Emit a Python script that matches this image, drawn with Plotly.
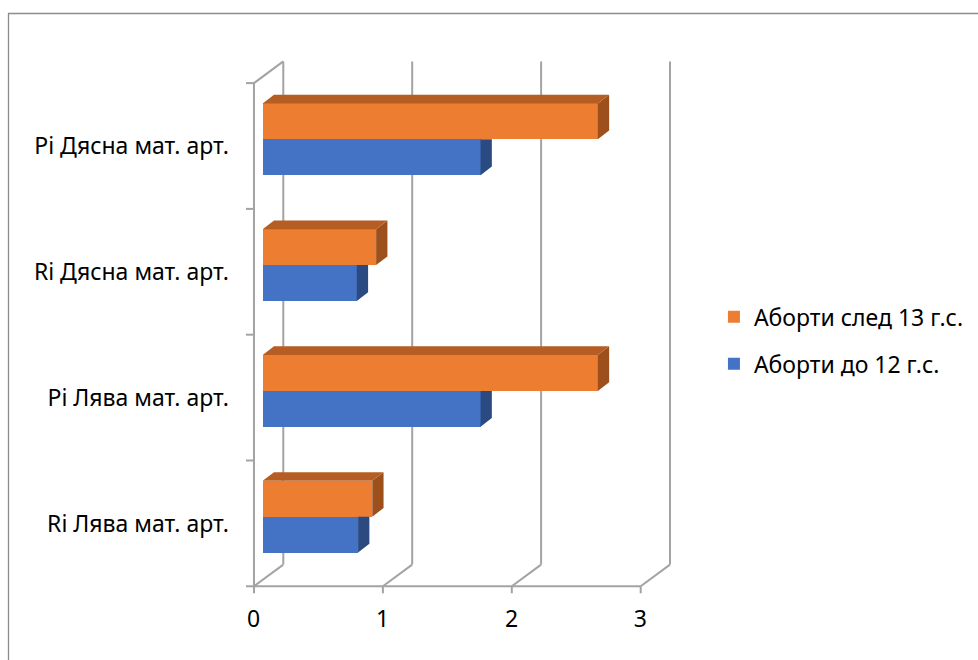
import plotly.graph_objects as go

# Series values per category (categories listed bottom-up)
categories = ["Ri Лява мат. арт.", "Pi Лява мат. арт.", "Ri Дясна мат. арт.", "Pi Дясна мат. арт."]
series_names = ["Аборти до 12 г.с.", "Аборти след 13 г.с."]
abort_before_12 = [0.74, 1.69, 0.73, 1.69]
abort_after_13 = [0.85, 2.6, 0.88, 2.6]
x_ticks = [0, 1, 2, 3]

BLUE, BLUE_SIDE = "#4472C4", "#2B4A82"
ORANGE, ORANGE_TOP, ORANGE_SIDE = "#ED7D31", "#B55D22", "#9E501C"
GRID = "#A3A3A3"
FONT = "Noto Sans"
FS = 23

# Canvas and plot-area geometry (pixels)
W, H = 978, 660
L, R, T, B = 240, 700, 40, 600
x_range = [-0.176, 3.3925]
y_range = [-0.6622, 3.7893]
kx = (R - L) / (x_range[1] - x_range[0])   # px per value unit
ky = (B - T) / (y_range[1] - y_range[0])   # px per category unit

def dx(px):
    return px / kx

def dy(px):
    return px / ky

# 3-D box offsets relative to the plane of the bar faces
fx, fy = dx(-8.7), dy(-6.7)     # front plane
bx, by = dx(20.6), dy(15.0)     # back wall
ex, ey = dx(11.3), dy(8.7)      # bar extrusion depth
bar_w = 0.285

pos = list(range(len(categories)))
fig = go.Figure()

fig.add_trace(go.Bar(
    y=pos, x=abort_before_12, orientation="h", name=series_names[0],
    width=bar_w, offset=-bar_w, marker=dict(color=BLUE, line=dict(width=0)),
    legendgroup="b", legendrank=2,
))
fig.add_trace(go.Bar(
    y=pos, x=abort_after_13, orientation="h", name=series_names[1],
    width=bar_w, offset=0, marker=dict(color=ORANGE, line=dict(width=0)),
    legendgroup="a", legendrank=1,
))

# Side and top faces of the bars, derived from the same values
def polys(builder):
    xs, ys = [], []
    for i in pos:
        px_, py_ = builder(i)
        xs += px_ + [px_[0], None]
        ys += py_ + [py_[0], None]
    return xs, ys

blue_side = polys(lambda i: (
    [abort_before_12[i], abort_before_12[i] + ex, abort_before_12[i] + ex, abort_before_12[i]],
    [i - bar_w, i - bar_w + ey, i, i]))
orange_side = polys(lambda i: (
    [abort_after_13[i], abort_after_13[i] + ex, abort_after_13[i] + ex, abort_after_13[i]],
    [i, i + ey, i + bar_w + ey, i + bar_w]))
orange_top = polys(lambda i: (
    [0, abort_after_13[i], abort_after_13[i] + ex, ex],
    [i + bar_w, i + bar_w, i + bar_w + ey, i + bar_w + ey]))

for (xs, ys), col in [(blue_side, BLUE_SIDE), (orange_side, ORANGE_SIDE), (orange_top, ORANGE_TOP)]:
    fig.add_trace(go.Scatter(
        x=xs, y=ys, mode="lines", fill="toself", fillcolor=col,
        line=dict(width=0, color=col), hoverinfo="skip", showlegend=False,
    ))

# Walls, floor and tick marks of the 3-D frame
shapes = []
def seg(x0, y0, x1, y1, **kw):
    d = dict(type="line", xref="x", yref="y", x0=x0, y0=y0, x1=x1, y1=y1,
             line=dict(color=GRID, width=2), layer="below")
    d.update(kw)
    shapes.append(d)

ylo, yhi = -0.5, len(categories) - 0.5
for v in x_ticks:
    seg(v + bx, ylo + by, v + bx, yhi + by)          # back wall gridline
    seg(v + fx, ylo + fy, v + bx, ylo + by)          # floor diagonal
    seg(v + fx, ylo + fy, v + fx, ylo + fy - dy(7))  # tick mark
seg(x_ticks[0] + fx, ylo + fy, x_ticks[-1] + fx, ylo + fy)   # floor front edge
seg(fx, ylo + fy, fx, yhi + fy)                              # left front edge
seg(fx, yhi + fy, bx, yhi + by)                              # left top edge
for k in range(len(categories) + 1):
    c = ylo + k
    seg(fx, c + fy, fx - dx(8), c + fy)                      # category tick

# Chart-area border
def px2paper_x(p):
    return (p - L) / (R - L)

def px2paper_y(p):
    return (B - p) / (B - T)

shapes.append(dict(type="path", xref="paper", yref="paper",
                   path=f"M{px2paper_x(8.5)},{px2paper_y(700)} L{px2paper_x(8.5)},{px2paper_y(13.5)} L{px2paper_x(1000)},{px2paper_y(13.5)}",
                   line=dict(color="#8C8C8C", width=1.3)))

fig.update_layout(
    width=W, height=H,
    margin=dict(l=L, r=W - R, t=T, b=H - B, pad=0),
    paper_bgcolor="white", plot_bgcolor="rgba(0,0,0,0)",
    font=dict(family=FONT, size=FS, color="#000000"),
    showlegend=True,
    legend=dict(
        xref="container", yref="container", x=0.730, y=0.5525,
        xanchor="left", yanchor="top",
        traceorder="grouped", tracegroupgap=14,
        font=dict(family=FONT, size=FS, color="#000000"),
        bgcolor="rgba(0,0,0,0)",
    ),
    xaxis=dict(
        range=x_range, tickvals=x_ticks, ticktext=[str(v) for v in x_ticks],
        showgrid=False, zeroline=False, showline=False, ticks="",
        ticklabelshift=-9, ticklabelstandoff=3, fixedrange=True,
    ),
    yaxis=dict(
        range=y_range, tickvals=pos, ticktext=categories,
        showgrid=False, zeroline=False, showline=False, ticks="",
        ticklabelshift=7, ticklabelstandoff=10, fixedrange=True,
    ),
    shapes=shapes,
    bargap=0,
)

fig.write_html("out.html")
